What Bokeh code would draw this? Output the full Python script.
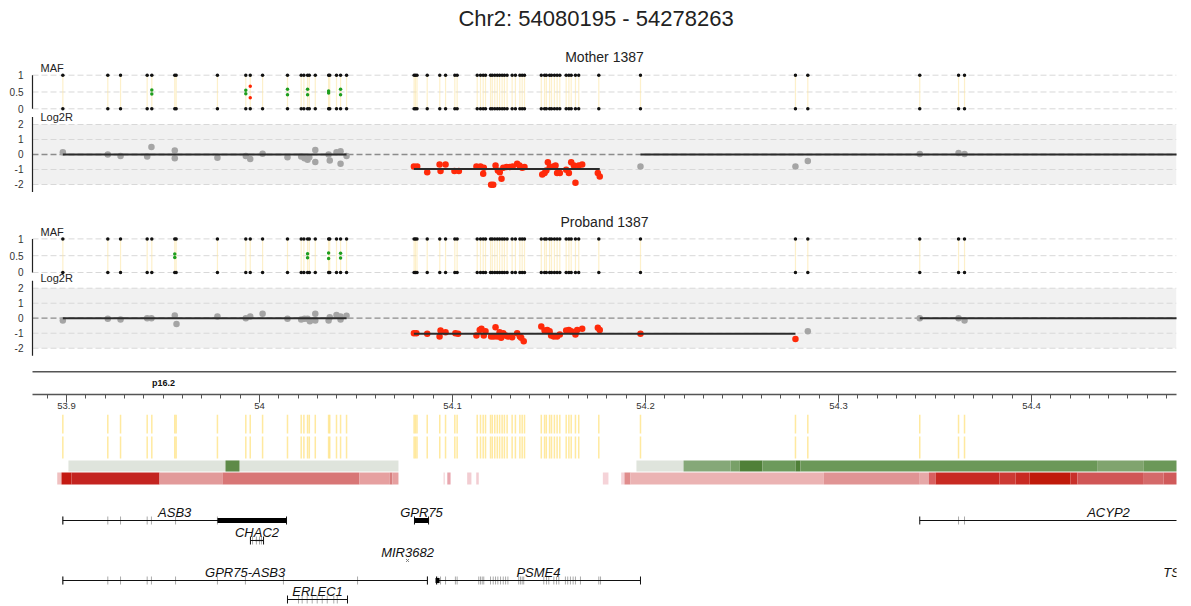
from bokeh.plotting import figure
from bokeh.layouts import column
from bokeh.models import Range1d, LinearAxis, FixedTicker, CustomJSTickFormatter
from bokeh.core.properties import value
from bokeh.embed import file_html
from bokeh.resources import INLINE

FONT_NAME = "Liberation Sans"
FONT = value(FONT_NAME)
PAGE_W = 1191
BORDER_L, BORDER_R = 28, 15          # frame starts a few px left of the axis lines
AXIS_GAP_PX = 4
PLOT_W = PAGE_W - BORDER_L - BORDER_R - AXIS_GAP_PX

# ---------------------------------------------------------------- data
X_LEFT, X_END = 53.88238, 54.47513            # genomic window, Mb
TITLE = "Chr2: 54080195 - 54278263"
SAMPLE_NAMES = ["Mother 1387", "Proband 1387"]

# SNP positions (Mb)
snp_pos = [
    53.8981, 53.9214, 53.9280, 53.9418, 53.9442, 53.9561, 53.9568, 53.9782,
    53.9929, 53.9952, 54.0016, 54.0145, 54.0216, 54.0230, 54.0249, 54.0258,
    54.0289, 54.0358, 54.0364, 54.0399, 54.0420, 54.0451,
    54.0801, 54.0808, 54.0816, 54.0869, 54.0934, 54.0964, 54.1012, 54.1024,
    54.1128, 54.1145, 54.1159, 54.1171, 54.1197, 54.1206, 54.1219, 54.1232,
    54.1244, 54.1257, 54.1269, 54.1283, 54.1309, 54.1326, 54.1349, 54.1361,
    54.1373, 54.1460, 54.1477, 54.1486, 54.1503, 54.1513, 54.1528, 54.1542,
    54.1556, 54.1589, 54.1603, 54.1615, 54.1637, 54.1654, 54.1758,
    54.1974, 54.2777, 54.2841, 54.3421, 54.3622, 54.3653,
]

# heterozygous calls (minor allele fraction)
mother_het_pos = [53.9442, 53.9929, 53.9952, 54.0145, 54.0249, 54.0358, 54.0420]
mother_het_maf = [0.44, 0.45, 0.33, 0.42, 0.42, 0.47, 0.42]
proband_het_pos = [53.9561, 54.0249, 54.0358, 54.0420]
proband_het_maf = [0.45, 0.44, 0.42, 0.43]

# log2 ratio per probe
mother_lr_pos = [
    53.8981, 53.9214, 53.9280, 53.9418, 53.9440, 53.9561, 53.9561, 53.9782,
    53.9929, 53.9952, 54.0016, 54.0145, 54.0216, 54.0233, 54.0249, 54.0258,
    54.0289, 54.0289, 54.0358, 54.0364, 54.0399, 54.0420, 54.0420, 54.0451,
    54.0800, 54.0817, 54.0869, 54.0933, 54.0938, 54.0964, 54.1010, 54.1033,
    54.1124, 54.1145, 54.1162, 54.1159, 54.1200, 54.1211, 54.1223, 54.1235,
    54.1245, 54.1254, 54.1263, 54.1280, 54.1297, 54.1312, 54.1335, 54.1347,
    54.1361, 54.1373, 54.1465, 54.1477, 54.1486, 54.1494, 54.1504, 54.1522,
    54.1534, 54.1542, 54.1556, 54.1589, 54.1603, 54.1615, 54.1629, 54.1637,
    54.1654, 54.1672, 54.1753, 54.1763,
    54.1974, 54.2777, 54.2841, 54.3421, 54.3622, 54.3653,
]
mother_lr_val = [
    0.15, 0.0, -0.1, -0.13, 0.5, 0.27, -0.25, -0.22,
    -0.1, -0.3, 0.05, -0.18, -0.13, -0.25, -0.35, -0.18,
    0.3, -0.5, 0.0, -0.4, 0.15, 0.22, -0.62, -0.1,
    -0.8, -0.8, -1.18, -0.67, -1.1, -0.67, -1.1, -1.1,
    -0.8, -0.8, -0.89, -1.29, -2.02, -2.02, -0.73, -1.07,
    -1.18, -1.62, -0.89, -0.84, -0.84, -0.8, -0.62, -0.73,
    -0.89, -0.84, -1.33, -1.24, -1.07, -0.51, -0.84, -0.8,
    -0.73, -1.24, -1.24, -1.02, -1.24, -0.51, -0.73, -1.89,
    -0.73, -0.67, -1.24, -1.47,
    -0.8, -0.8, -0.44, 0.04, 0.1, 0.04,
]
proband_lr_pos = [
    53.8981, 53.9214, 53.9280, 53.9418, 53.9440, 53.9561, 53.9570, 53.9782,
    53.9929, 53.9952, 54.0016, 54.0145, 54.0216, 54.0233, 54.0249, 54.0261,
    54.0289, 54.0289, 54.0358, 54.0364, 54.0399, 54.0420, 54.0420, 54.0451,
    54.0800, 54.0813, 54.0869, 54.0933, 54.0938, 54.0964, 54.1015, 54.1029,
    54.1124, 54.1141, 54.1150, 54.1171, 54.1162, 54.1200, 54.1214, 54.1223,
    54.1232, 54.1244, 54.1252, 54.1263, 54.1275, 54.1287, 54.1309, 54.1335,
    54.1349, 54.1356, 54.1369, 54.1460, 54.1477, 54.1491, 54.1503, 54.1511,
    54.1525, 54.1542, 54.1556, 54.1589, 54.1603, 54.1615, 54.1637, 54.1646,
    54.1672, 54.1753, 54.1763, 54.1974, 54.2777,
    54.2841, 54.3421, 54.3622, 54.3653,
]
proband_lr_val = [
    -0.16, -0.04, -0.09, 0.0, 0.0, 0.18, -0.38, 0.11,
    0.0, 0.11, 0.29, -0.04, -0.09, -0.04, -0.04, -0.2,
    -0.16, 0.29, -0.16, 0.07, 0.22, 0.11, -0.09, 0.16,
    -1.0, -1.0, -1.04, -1.22, -0.82, -0.93, -1.0, -1.04,
    -1.16, -0.78, -0.71, -0.87, -1.16, -1.22, -1.22, -0.6,
    -1.22, -0.93, -1.31, -1.0, -1.16, -1.22, -1.27, -1.0,
    -1.22, -1.31, -1.53, -0.56, -0.82, -0.78, -0.87, -1.16,
    -1.22, -1.22, -1.09, -0.82, -0.78, -0.87, -1.09, -0.78,
    -0.71, -0.64, -0.78, -1.04, -1.38,
    -0.87, 0.0, 0.0, -0.16,
]

# segmentation
mother_seg_start = [53.8981, 54.0800, 54.1974]
mother_seg_end = [54.0451, 54.1763, 54.4760]
mother_seg_mean = [0.0, -0.96, 0.0]
proband_seg_start = [53.8981, 54.0800, 54.3421]
proband_seg_end = [54.0451, 54.2777, 54.4760]
proband_seg_mean = [0.0, -1.04, 0.0]

# axis ticks
maf_ticks = [0, 0.5, 1]
lr_ticks = [-2, -1, 0, 1, 2]
mb_ticks = [53.9, 54.0, 54.1, 54.2, 54.3, 54.4]
mb_minor = [round(53.89 + 0.01 * i, 2) for i in range(59)]

# cytoband
band_name = ["p16.2"]
band_label_pos = [53.9503]

# annotation heat tracks
green_start = [53.9010, 53.9824, 54.1953, 54.2197, 54.2440, 54.2487, 54.2606,
               54.2777, 54.2803, 54.4340, 54.4582]
green_end = [54.0720, 53.9896, 54.2197, 54.2440, 54.2487, 54.2606, 54.2777,
             54.2803, 54.4340, 54.4582, 54.4760]
green_color = ["#dfe4dc", "#5e8a48", "#dfe4dc", "#85a878", "#78a068", "#4f8038",
               "#6d9a5c", "#4f8038", "#6b9858", "#80a46e", "#6b9858"]

red_start = [53.8952, 53.8974, 53.9026, 53.9482, 53.9808, 54.0518, 54.0674, 54.0689,
             54.0953, 54.0973, 54.1076, 54.1123, 54.1779, 54.1874, 54.1891, 54.1922,
             54.2924, 54.3421, 54.3468, 54.3503, 54.3834, 54.3917, 54.3990, 54.4202,
             54.4238, 54.4582, 54.4684]
red_end = [53.8974, 53.9026, 53.9482, 53.9808, 54.0518, 54.0674, 54.0689, 54.0720,
           54.0961, 54.0990, 54.1098, 54.1136, 54.1808, 54.1891, 54.1922, 54.2924,
           54.3421, 54.3468, 54.3503, 54.3834, 54.3917, 54.3990, 54.4202, 54.4238,
           54.4582, 54.4684, 54.4760]
red_color = ["#f0c0c0", "#c41a12", "#c42420", "#e29a9a", "#d87676", "#e6a0a0", "#d88080",
             "#e6a0a0", "#f6dde0", "#e8a6ae", "#f2cdd2", "#f2cdd2", "#f5d3d8", "#f5d3d8",
             "#e08c8c", "#ebb3b3", "#e09494", "#e6a8a8", "#d86060", "#c82a22", "#cc3a34",
             "#c82a22", "#c01a0a", "#c8302a", "#d05656", "#d46a6a", "#d05a5a"]

# genes
gene_name = ["ASB3", "GPR75", "ACYP2", "CHAC2", "MIR3682", "GPR75-ASB3", "PSME4",
             "TSPYL6", "ERLEC1"]
gene_start = [53.8981, 54.0803, 54.3421, 53.9953, 54.0765, 53.8981, 54.0917, 54.4800, 54.0145]
gene_end = [54.0140, 54.0876, 54.5377, 54.0021, 54.0769, 54.0870, 54.1974, 54.4816, 54.0456]
gene_row = [0, 0, 0, 1, 2, 3, 3, 3, 4]
thick_gene = ["ASB3", "GPR75", "PSME4"]
thick_start = [53.9782, 54.0803, 54.0912]
thick_end = [54.0140, 54.0876, 54.0933]
exons = {
    "ASB3": [53.8981, 53.9214, 53.9280, 53.9418, 53.9440, 53.9565, 53.9782],
    "GPR75-ASB3": [53.8981, 53.9214, 53.9280, 53.9418, 53.9440, 53.9565, 53.9782,
                   53.9927, 54.0124, 54.0508, 54.0870],
    "CHAC2": [53.9964, 53.9984, 54.0000, 54.0010],
    "PSME4": [54.0924, 54.0938, 54.0964, 54.1015, 54.1024, 54.1136, 54.1145, 54.1154,
              54.1162, 54.1197, 54.1211, 54.1223, 54.1235, 54.1249, 54.1263, 54.1275,
              54.1287, 54.1343, 54.1352, 54.1361, 54.1369, 54.1473, 54.1487, 54.1499,
              54.1525, 54.1539, 54.1551, 54.1585, 54.1597, 54.1611, 54.1625, 54.1637,
              54.1663, 54.1758, 54.1767],
    "ERLEC1": [54.0202, 54.0221, 54.0247, 54.0273, 54.0299, 54.0325, 54.0351,
               54.0385, 54.0403],
    "ACYP2": [54.3622, 54.3653],
}

# ---------------------------------------------------------------- helpers
MB_PER_PX = (X_END - X_LEFT) / PLOT_W
xr = Range1d(X_LEFT - AXIS_GAP_PX * MB_PER_PX, X_END)
RED = "#ff2a0a"
GREY_PT = "#a5a5a5"
GRID = "#d8d8d8"


def make_fig(height, y0, y1, top=0, bottom=0):
    p = figure(width=PAGE_W, height=height, x_range=xr, y_range=Range1d(y0, y1),
               x_axis_type=None, y_axis_type=None, output_backend="svg",
               toolbar_location=None, min_border_left=BORDER_L,
               min_border_right=BORDER_R, min_border_top=top,
               min_border_bottom=bottom)
    p.outline_line_color = None
    p.background_fill_color = "white"
    p.border_fill_color = "white"
    return p


def fmt(v):
    return "%g" % v


def sample_panel(height, maf_rng, lr_rng, het_pos, het_maf, lr_pos, lr_val,
                 s_start, s_end, s_mean, name, name_y, maf_label_y, lr_label_y,
                 title=None, title_y=None):
    p = make_fig(height, *maf_rng)
    p.extra_y_ranges = {"lr": Range1d(*lr_rng)}

    # ---- Log2R background band, grid and zero line
    p.quad(left=[X_LEFT], right=[X_END], bottom=[-2], top=[2], y_range_name="lr",
           fill_color="#f1f1f1", line_color=None)
    nz = [t for t in lr_ticks if t != 0]
    p.segment(x0=[X_LEFT] * len(nz), y0=nz, x1=[X_END] * len(nz), y1=nz,
              y_range_name="lr", line_color=GRID, line_dash="6 3", line_width=1)
    p.segment(x0=[X_LEFT], y0=[0], x1=[X_END], y1=[0], y_range_name="lr",
              line_color="#8c8c8c", line_dash="6 3", line_width=1.3)
    # ---- MAF grid
    p.segment(x0=[X_LEFT] * 3, y0=maf_ticks, x1=[X_END] * 3, y1=maf_ticks,
              line_color=GRID, line_dash="6 3", line_width=1)

    # ---- axis lines of the two panels
    p.segment(x0=[X_LEFT], y0=[0], x1=[X_LEFT], y1=[1], line_color="#222",
              line_width=1.2)
    p.segment(x0=[X_LEFT], y0=[-2.5], x1=[X_LEFT], y1=[2.5], y_range_name="lr",
              line_color="#222", line_width=1.2)

    # ---- tick labels for both panels on one axis
    m0, m1 = maf_rng
    l0, l1 = lr_rng
    to_maf = [m0 + (v - l0) / (l1 - l0) * (m1 - m0) for v in lr_ticks]
    tick_pos = list(maf_ticks) + to_maf
    tick_lab = [fmt(v) for v in maf_ticks] + [fmt(v) for v in lr_ticks]
    formatter = CustomJSTickFormatter(
        args=dict(pos=tick_pos, labels=tick_lab),
        code="for (let i = 0; i < pos.length; i++) {"
             " if (Math.abs(pos[i] - tick) < 1e-6) return labels[i]; }"
             " return '';")
    ax = LinearAxis(ticker=FixedTicker(ticks=tick_pos, minor_ticks=[]),
                    formatter=formatter, axis_line_color=None,
                    major_tick_in=0, major_tick_out=0, minor_tick_in=0,
                    minor_tick_out=0, major_label_standoff=5,
                    major_label_text_font=FONT_NAME, major_label_text_font_size="10px",
                    major_label_text_color="#333")
    p.add_layout(ax, "left")

    # ---- MAF marks
    n = len(snp_pos)
    p.segment(x0=snp_pos, y0=[0] * n, x1=snp_pos, y1=[1] * n,
              line_color="#fbe6a6", line_width=1.2, line_alpha=0.6)
    p.scatter(x=snp_pos + snp_pos, y=[0] * n + [1] * n, size=3.5,
              color="#111111", line_width=0)
    hx = het_pos + het_pos
    hy = list(het_maf) + [1 - m for m in het_maf]
    hc = ["#1e9e1e" if m >= 0.4 else "#ff2200" for m in het_maf] * 2
    p.scatter(x=hx, y=hy, size=3.5, color=hc, line_width=0)

    # ---- Log2R marks
    def in_loss(x):
        return any(a <= x <= b and m < -0.5 for a, b, m in zip(s_start, s_end, s_mean))

    gx = [x for x in lr_pos if not in_loss(x)]
    gy = [v for x, v in zip(lr_pos, lr_val) if not in_loss(x)]
    rx = [x for x in lr_pos if in_loss(x)]
    ry = [v for x, v in zip(lr_pos, lr_val) if in_loss(x)]
    p.scatter(x=gx, y=gy, y_range_name="lr", size=6.5, color=GREY_PT, line_width=0)
    p.scatter(x=rx, y=ry, y_range_name="lr", size=6.5, color=RED, line_width=0)
    p.segment(x0=s_start, y0=s_mean, x1=s_end, y1=s_mean, y_range_name="lr",
              line_color="#2b2b2b", line_width=2)

    # ---- texts
    lbl = dict(x_offset=8, text_align="left", text_baseline="middle", text_font=FONT,
               text_font_size="11px", text_color="#222")
    p.text(x=[X_LEFT], y=[maf_label_y], text=["MAF"], **lbl)
    p.text(x=[X_LEFT], y=[lr_label_y], text=["Log2R"], y_range_name="lr", **lbl)
    p.text(x=[(X_LEFT + X_END) / 2], y=[name_y], text=[name], text_align="center",
           text_baseline="middle", text_font=FONT, text_font_size="14px",
           text_color="#222")
    if title is not None:
        title_x = xr.start + (PAGE_W / 2 - BORDER_L) * MB_PER_PX
        p.text(x=[title_x], y=[title_y], text=[title], text_align="center",
               text_baseline="middle", text_font=FONT, text_font_size="22px",
               text_color="#222")
    return p


# ---------------------------------------------------------------- sample panels
p_mother = sample_panel(200, (-2.729, 3.223), (-3.067, 10.267),
                        mother_het_pos, mother_het_maf, mother_lr_pos, mother_lr_val,
                        mother_seg_start, mother_seg_end, mother_seg_mean,
                        SAMPLE_NAMES[0], 1.527, 1.229, 2.47,
                        title=TITLE, title_y=2.687)
p_proband = sample_panel(162, (-2.679, 2.143), (-2.953, 7.847),
                         proband_het_pos, proband_het_maf, proband_lr_pos, proband_lr_val,
                         proband_seg_start, proband_seg_end, proband_seg_mean,
                         SAMPLE_NAMES[1], 1.497, 1.2, 2.71)

# ---------------------------------------------------------------- ideogram + axis
p5 = make_fig(52, 0, 1.1, top=7, bottom=20)
p5.segment(x0=[X_LEFT], y0=[1], x1=[X_END], y1=[1], line_color="#555", line_width=1.3)
xa = LinearAxis(bounds=(X_LEFT, X_END),
                ticker=FixedTicker(ticks=mb_ticks, minor_ticks=mb_minor),
                formatter=CustomJSTickFormatter(code="return String(Math.round(tick * 10) / 10);"),
                major_tick_in=0, major_tick_out=8, minor_tick_in=0, minor_tick_out=4,
                major_label_standoff=0, axis_line_color="#555", axis_line_width=1.3,
                major_tick_line_color="#555", minor_tick_line_color="#555",
                major_label_text_font=FONT_NAME, major_label_text_font_size="9.5px",
                major_label_text_color="#333")
p5.add_layout(xa, "below")
p5.text(x=band_label_pos, y=[0.5], text=band_name, text_align="center",
        text_baseline="middle", text_font=FONT, text_font_size="9px",
        text_font_style="bold", text_color="#111")

# ---------------------------------------------------------------- SNP + heat tracks
p6 = make_fig(74, 74, 0)
n = len(snp_pos)
for r0, r1 in [(0, 19), (22, 44)]:
    p6.segment(x0=snp_pos, y0=[r0] * n, x1=snp_pos, y1=[r1] * n,
               line_color="#ffe27f", line_width=1.5, line_alpha=0.75)
p6.quad(left=green_start, right=green_end, top=46, bottom=57,
        fill_color=green_color, line_color=None)
p6.quad(left=red_start, right=red_end, top=58, bottom=70,
        fill_color=red_color, line_color=None)

# ---------------------------------------------------------------- genes
p7 = make_fig(118, 118, 0)
ROW_Y = [32, 52, 72, 92, 111]
gy = [ROW_Y[r] for r in gene_row]
is_tiny = [(e - s) < 0.001 for s, e in zip(gene_start, gene_end)]
lx0 = [s for s, t in zip(gene_start, is_tiny) if not t]
lx1 = [e for e, t in zip(gene_end, is_tiny) if not t]
ly = [y for y, t in zip(gy, is_tiny) if not t]

ex_x, ex_y = [], []
for name, xs in exons.items():
    yrow = ROW_Y[gene_row[gene_name.index(name)]]
    ex_x += xs
    ex_y += [yrow] * len(xs)
p7.segment(x0=ex_x, y0=[y - 4 for y in ex_y], x1=ex_x, y1=[y + 4 for y in ex_y],
           line_color="#aaaaaa", line_width=1)
p7.segment(x0=lx0, y0=ly, x1=lx1, y1=ly, line_color="#111", line_width=1.2)
caps_x = lx0 + lx1
caps_y = ly + ly
p7.segment(x0=caps_x, y0=[y - 4 for y in caps_y], x1=caps_x,
           y1=[y + 4 for y in caps_y], line_color="#111", line_width=1)
ty = [ROW_Y[gene_row[gene_name.index(g)]] for g in thick_gene]
p7.quad(left=thick_start, right=thick_end, top=[y - 2.5 for y in ty],
        bottom=[y + 2.5 for y in ty], fill_color="#000", line_color=None)
mx = [(s + e) / 2 for s, e, t in zip(gene_start, gene_end, is_tiny) if t]
my = [y for y, t in zip(gy, is_tiny) if t]
p7.scatter(x=mx, y=my, marker="x", size=4, line_color="#777", line_width=1)
p7.text(x=[(s + e) / 2 for s, e in zip(gene_start, gene_end)],
        y=[y - 8.5 for y in gy], text=gene_name, text_align="center",
        text_baseline="middle", text_font=FONT, text_font_size="13px",
        text_font_style="italic", text_color="#111")

layout = column(p_mother, p_proband, p5, p6, p7)
open("out.html", "w").write(file_html(layout, INLINE, title=TITLE))
